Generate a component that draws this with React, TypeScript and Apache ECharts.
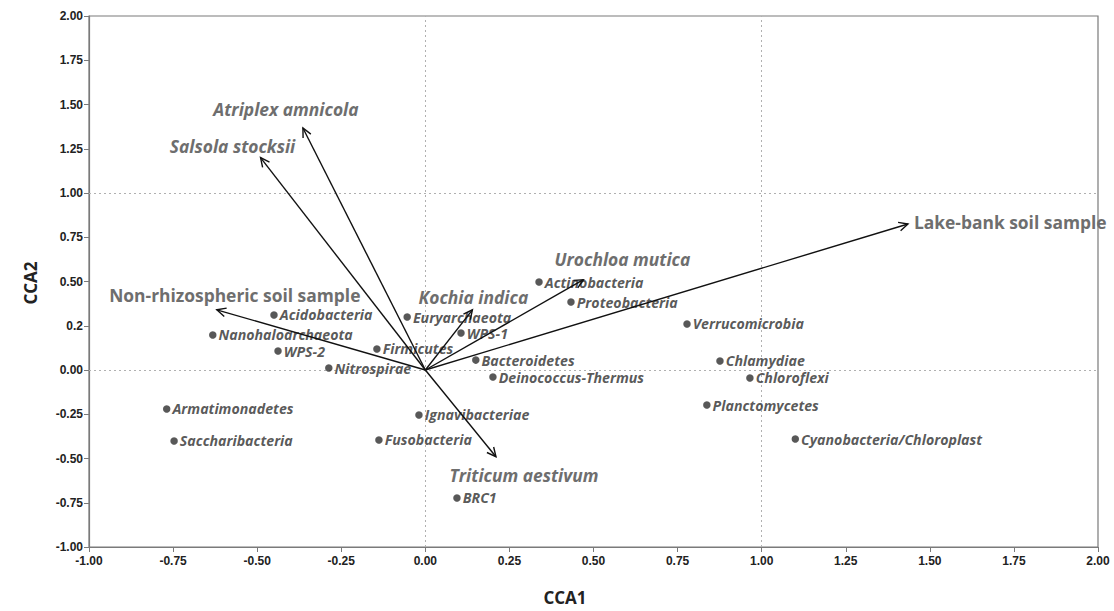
import React, { useEffect, useRef } from "react";
import * as echarts from "echarts";

// Species (points)
const speciesNames = [
  "Acidobacteria", "Nanohaloarchaeota", "WPS-2", "Firmicutes", "Nitrospirae",
  "Euryarchaeota", "WPS-1", "Actinobacteria", "Proteobacteria", "Bacteroidetes",
  "Deinococcus-Thermus", "Ignavibacteriae", "Fusobacteria", "BRC1", "Armatimonadetes",
  "Saccharibacteria", "Verrucomicrobia", "Chlamydiae", "Chloroflexi", "Planctomycetes",
  "Cyanobacteria/Chloroplast",
];
const speciesCCA1 = [
  -0.45, -0.632, -0.438, -0.144, -0.287,
  -0.054, 0.106, 0.338, 0.433, 0.15,
  0.201, -0.019, -0.138, 0.094, -0.769,
  -0.747, 0.778, 0.876, 0.965, 0.837,
  1.1,
];
const speciesCCA2 = [
  0.311, 0.198, 0.107, 0.119, 0.011,
  0.299, 0.209, 0.497, 0.384, 0.056,
  -0.04, -0.254, -0.395, -0.723, -0.22,
  -0.401, 0.26, 0.051, -0.045, -0.198,
  -0.39,
];

// Environmental vectors (arrows)
const envNames = [
  "Atriplex amnicola", "Salsola stocksii", "Non-rhizospheric soil sample",
  "Kochia indica", "Urochloa mutica", "Lake-bank soil sample", "Triticum aestivum",
];
const envCCA1 = [-0.364, -0.49, -0.62, 0.14, 0.47, 1.435, 0.21];
const envCCA2 = [1.367, 1.2, 0.34, 0.34, 0.51, 0.825, -0.49];

// Axis ticks
const axisMin = -1;
const axisMax = 2;
const axisStep = 0.25;
const refLines = [0, 1];

// label placement styles (pixel offsets from the arrow tip)
const envLabelStyle: Record<string, { dx: number; dy: number; align: string; italic: boolean }> = {
  "Atriplex amnicola": { dx: -17, dy: -19, align: "center", italic: true },
  "Salsola stocksii": { dx: -28, dy: -12, align: "center", italic: true },
  "Non-rhizospheric soil sample": { dx: 18, dy: -15, align: "center", italic: false },
  "Kochia indica": { dx: 1, dy: -13, align: "center", italic: true },
  "Urochloa mutica": { dx: 39, dy: -21, align: "center", italic: true },
  "Lake-bank soil sample": { dx: 6, dy: -2, align: "left", italic: false },
  "Triticum aestivum": { dx: 28, dy: 18, align: "center", italic: true },
};

export default function App() {
  const ref = useRef<HTMLDivElement>(null);
  useEffect(() => {
    if (!ref.current) return;
    const chart = echarts.init(ref.current, null, { renderer: "svg" });
    const speciesData = speciesNames.map((n, i) => ({ name: n, value: [speciesCCA1[i], speciesCCA2[i]] }));
    const envData = envNames.map((n, i) => ({ name: n, value: [envCCA1[i], envCCA2[i]] }));
    const tickFmt = (v: number) => (Math.abs(v - 0.25) < 1e-9 ? "0.2" : v.toFixed(2));
    const xFmt = (v: number) => v.toFixed(2);
    chart.setOption({
      animation: false,
      backgroundColor: "#ffffff",
      grid: {
        left: 89, right: 16, top: 16, bottom: 64,
        show: true, borderColor: "#7a7a7a", borderWidth: 1.2, backgroundColor: "transparent",
      },
      xAxis: {
        type: "value", min: axisMin, max: axisMax, interval: axisStep,
        axisLine: { show: true, onZero: false, lineStyle: { color: "#7a7a7a", width: 1.2 } },
        axisTick: { show: true, length: 5, lineStyle: { color: "#7a7a7a" } },
        splitLine: { show: false },
        axisLabel: {
          formatter: xFmt, margin: 8, color: "#222",
          fontFamily: "Liberation Sans", fontWeight: "bold", fontSize: 12,
        },
      },
      yAxis: {
        type: "value", min: axisMin, max: axisMax, interval: axisStep,
        axisLine: { show: true, onZero: false, lineStyle: { color: "#7a7a7a", width: 1.2 } },
        axisTick: { show: true, length: 5, lineStyle: { color: "#7a7a7a" } },
        splitLine: { show: false },
        axisLabel: {
          formatter: tickFmt, margin: 6, color: "#222",
          fontFamily: "Liberation Sans", fontWeight: "bold", fontSize: 12,
        },
      },
      graphic: [
        {
          type: "text", x: 565, y: 597,
          style: {
            text: "CCA1", fill: "#222", fontFamily: "Open Sans", fontWeight: "bold", fontSize: 17,
            align: "center", verticalAlign: "middle",
          },
        },
        {
          type: "text", x: 30, y: 283, rotation: Math.PI / 2,
          style: {
            text: "CCA2", fill: "#222", fontFamily: "Open Sans", fontWeight: "bold", fontSize: 17,
            align: "center", verticalAlign: "middle",
          },
        },
      ],
      series: [
        {
          type: "scatter",
          data: speciesData,
          symbol: "circle",
          symbolSize: 7.5,
          itemStyle: { color: "#2e2e2e" },
          label: {
            show: true, position: "right", distance: 2,
            formatter: "{b}", color: "#2e2e2e", lineHeight: 13,
            fontFamily: "Open Sans", fontWeight: "bold", fontStyle: "italic", fontSize: 14.2,
          },
          markLine: {
            silent: true, symbol: "none", label: { show: false },
            lineStyle: { type: [2, 3], color: "#b0b0b0", width: 1 },
            data: [
              ...refLines.map((v) => ({ xAxis: v })),
              ...refLines.map((v) => ({ yAxis: v })),
            ],
            z: 1,
          },
          z: 3,
        },
        {
          type: "custom",
          data: envData,
          encode: { x: 0, y: 1 },
          clip: false,
          z: 4,
          renderItem: (params: any, api: any) => {
            const o = api.coord([0, 0]);
            const t = api.coord([api.value(0), api.value(1)]);
            const ang = Math.atan2(t[1] - o[1], t[0] - o[0]);
            const L = 10, a = 0.45;
            const p1 = [t[0] - L * Math.cos(ang - a), t[1] - L * Math.sin(ang - a)];
            const p2 = [t[0] - L * Math.cos(ang + a), t[1] - L * Math.sin(ang + a)];
            const name = envNames[params.dataIndex];
            const lab = envLabelStyle[name];
            return {
              type: "group",
              children: [
                { type: "line", shape: { x1: o[0], y1: o[1], x2: t[0], y2: t[1] }, style: { stroke: "#111", lineWidth: 1.4 } },
                { type: "polyline", shape: { points: [p1, t, p2] }, style: { stroke: "#111", lineWidth: 1.4, fill: null } },
                {
                  type: "text", x: t[0] + lab.dx, y: t[1] + lab.dy,
                  style: {
                    text: name, fill: "#6e6e6e", fontFamily: "Open Sans", fontWeight: "bold",
                    fontStyle: lab.italic ? "italic" : "normal", fontSize: 17.4,
                    align: lab.align, verticalAlign: "middle",
                  },
                },
              ],
            };
          },
        },
      ],
    });
    return () => chart.dispose();
  }, []);
  return <div ref={ref} style={{ position: "absolute", left: 0, top: 0, width: 1114, height: 611 }} />;
}
